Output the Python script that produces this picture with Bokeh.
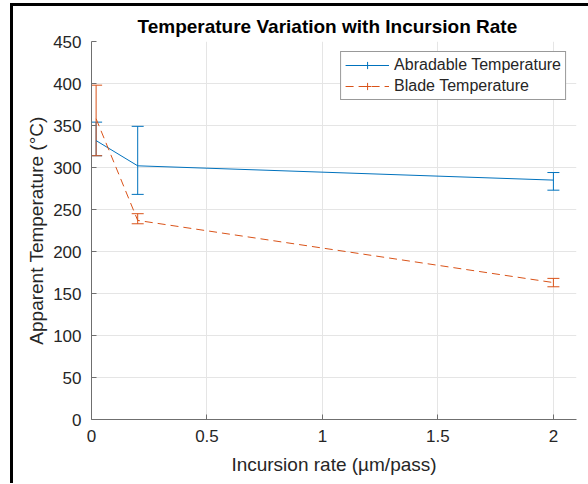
from bokeh.plotting import figure
from bokeh.models import ColumnDataSource, Whisker, TeeHead, FixedTicker, Legend, LegendItem
from bokeh.layouts import column
from bokeh.embed import file_html
from bokeh.resources import INLINE

# Data
incursion = [0.02, 0.2, 2.0]
abr_temp = [332, 302, 285]
abr_lower = [314, 268, 273]
abr_upper = [354, 349, 294]
blade_temp = [358, 237, 163]
blade_lower = [314, 233, 158]
blade_upper = [398, 245, 168]
x_ticks = [0, 0.5, 1, 1.5, 2]
x_tick_labels = ["0", "0.5", "1", "1.5", "2"]
y_ticks = [0, 50, 100, 150, 200, 250, 300, 350, 400, 450]

BLUE = "#0072BD"
ORANGE = "#D95319"
FONT = "Liberation Sans"
TXT = "#262626"

p = figure(width=575, height=477, output_backend="svg", toolbar_location=None,
           x_range=(0, 2.1), y_range=(0, 450),
           title="Temperature Variation with Incursion Rate")
p.min_border_left = 78
p.min_border_right = 12
p.min_border_top = 35
p.min_border_bottom = 64
p.outline_line_color = None
p.background_fill_color = "white"
p.border_fill_color = "white"

p.title.align = "left"
p.title.text_font = FONT
p.title.text_font_size = "19px"
p.title.text_font_style = "bold"
p.title.text_color = "black"
p.title.offset = 46
p.title.standoff = 10

for ax in (p.xaxis[0], p.yaxis[0]):
    ax.axis_line_color = "#6f6f6f"
    ax.major_tick_line_color = "#6f6f6f"
    ax.major_tick_in = 5
    ax.major_tick_out = 0
    ax.minor_tick_line_color = None
    ax.major_label_text_font = FONT
    ax.major_label_text_font_size = "17px"
    ax.major_label_text_color = TXT
    ax.axis_label_text_font = FONT
    ax.axis_label_text_font_style = "normal"
    ax.axis_label_text_color = TXT
    ax.axis_label_text_font_size = "19px"

p.xaxis.ticker = FixedTicker(ticks=x_ticks)
p.xaxis.major_label_overrides = {t: l for t, l in zip(x_ticks, x_tick_labels)}
p.yaxis.ticker = FixedTicker(ticks=y_ticks)
p.xaxis.axis_label = "Incursion rate (µm/pass)"
p.yaxis.axis_label = "Apparent Temperature (°C)"
p.xaxis.major_label_standoff = 10
p.yaxis.major_label_standoff = 10
p.xaxis.axis_label_standoff = 9
p.yaxis.axis_label_standoff = 3

p.xgrid.grid_line_color = "#e5e5e5"
p.ygrid.grid_line_color = "#e5e5e5"

src_a = ColumnDataSource(dict(x=incursion, y=abr_temp, lo=abr_lower, hi=abr_upper))
src_b = ColumnDataSource(dict(x=incursion, y=blade_temp, lo=blade_lower, hi=blade_upper))

la = p.line("x", "y", source=src_a, line_color=BLUE, line_width=1)
lb = p.line("x", "y", source=src_b, line_color=ORANGE, line_width=1, line_dash="8 5")

for src, col in ((src_a, BLUE), (src_b, ORANGE)):
    w = Whisker(source=src, base="x", upper="hi", lower="lo", line_color=col, line_width=1,
                upper_head=TeeHead(size=12, line_color=col, line_width=1),
                lower_head=TeeHead(size=12, line_color=col, line_width=1))
    p.add_layout(w)

# legend-only icons (error-bar tick on the legend line); no visible mark in the plot
nan = float("nan")
icon_a = ColumnDataSource(dict(x=[nan], y=[nan]))
icon_b = ColumnDataSource(dict(x=[nan], y=[nan]))
ia = p.scatter("x", "y", source=icon_a, marker="cross", size=13, line_color=BLUE, line_width=1)
ib = p.scatter("x", "y", source=icon_b, marker="cross", size=13, line_color=ORANGE, line_width=1)

legend = Legend(items=[LegendItem(label="Abradable Temperature", renderers=[la, ia]),
                       LegendItem(label="Blade Temperature", renderers=[lb, ib])],
                location="top_right")
legend.label_text_font = FONT
legend.label_text_font_size = "16px"
legend.label_text_color = TXT
legend.glyph_width = 44
legend.glyph_height = 18
legend.label_standoff = 5
legend.spacing = 3
legend.padding = 4
legend.margin = 10
legend.border_line_color = "#333333"
legend.border_line_width = 1
legend.background_fill_alpha = 1
legend.label_height = 18
p.add_layout(legend, "center")

layout = column(p, styles={"border-top": "3px solid black", "border-left": "3px solid black"},
                margin=(3, 0, 0, 10))

open("out.html", "w").write(file_html(layout, INLINE))
